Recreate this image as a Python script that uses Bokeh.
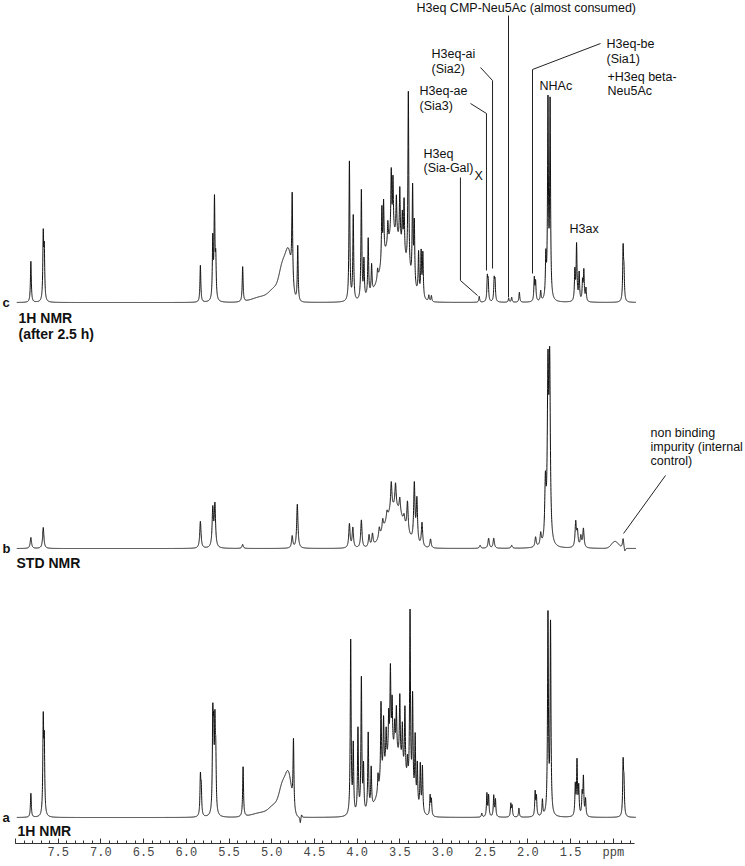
import numpy as np
from bokeh.plotting import figure
from bokeh.models import Range1d, FixedTicker, Label
from bokeh.embed import file_html
from bokeh.resources import INLINE

# ---------------- data: peak lists ----------------
# spectrum a: 1H NMR (t = 0)
a_ppm = [7.820, 7.675, 7.663, 5.835, 5.825, 5.690, 5.680, 5.665, 5.655, 5.335,
         4.745, 4.665, 4.650,
         4.075, 4.045, 3.990, 3.950, 3.925, 3.870, 3.835, 3.755, 3.720, 3.690,
         3.660, 3.630, 3.610, 3.590, 3.560, 3.540, 3.500, 3.470, 3.440, 3.410,
         3.380, 3.350, 3.320, 3.295, 3.260, 3.235, 3.145, 3.130,
         2.540, 2.480, 2.460, 2.400, 2.380, 2.200, 2.185, 2.105, 1.915, 1.900,
         1.830, 1.765, 1.735, 1.445, 1.425, 1.405, 1.365, 1.350, 1.325, 0.885, 0.875]
a_height = [24, 92, 68, 38, 26, 90, 68, 80, 52, 50,
            68, -6, 3,
            175, 68, 85, 135, 45, 78, 40, 18, 80, 55,
            35, 42, 85, 50, 28, 45, 65, 42, 68, 22,
            180, 100, 66, 42, 46, 46, 20, 16,
            4, 23, 21, 21, 17, 13, 11, 9, 24, 19,
            16, 200, 190, 30, 54, 28, 21, 38, 17, 52, 30]
# broad water hump (a) and sugar envelope
a_broad_ppm = [4.800, 4.870, 4.960, 5.100, 3.570]
a_broad_height = [38, 28, 10, 5, 62]
a_broad_sigma = [0.035, 0.040, 0.060, 0.120, 0.130]

# spectrum b: STD NMR
b_ppm = [7.820, 7.675, 5.835, 5.690, 5.665, 5.340, 4.760, 4.700,
         4.090, 4.050, 3.950, 3.860, 3.820, 3.740, 3.700, 3.650, 3.600, 3.550,
         3.500, 3.450, 3.410, 3.330, 3.300, 3.240, 3.140,
         2.560, 2.460, 2.400, 2.190, 1.910, 1.850, 1.795, 1.765, 1.745,
         1.440, 1.420, 1.380, 1.350, 0.885, 0.865]
b_height = [11, 21, 27, 38, 42, 4, 12, 44,
            24, 20, 28, 12, 12, 10, 11, 8, 28, 24,
            15, 8, 30, 58, 44, 24, 9,
            3, 10, 10, 3, 10, 12, 58, 165, 172,
            25, 15, 11, 19, 10, -4]
b_broad_ppm = [3.560, 0.980]
b_broad_height = [40, 7]
b_broad_sigma = [0.110, 0.040]

# spectrum c: 1H NMR (after 2.5 h)
c_ppm = [7.820, 7.675, 7.663, 5.835, 5.690, 5.670, 5.655, 5.340,
         4.760, 4.695,
         4.090, 4.045, 3.950, 3.920, 3.870, 3.830, 3.760, 3.710, 3.690, 3.640,
         3.600, 3.580, 3.540, 3.500, 3.470, 3.450, 3.400, 3.350, 3.330, 3.280,
         3.250, 3.230, 3.160, 3.130,
         2.570, 2.475, 2.465, 2.395, 2.385, 2.225, 2.190, 2.100, 1.925, 1.910,
         1.850, 1.790, 1.765, 1.740, 1.450, 1.430, 1.400, 1.360, 1.345, 1.320,
         0.885, 0.875]
c_height = [41, 64, 48, 37, 60, 98, 38, 35,
            86, 56,
            140, 85, 110, 38, 58, 28, 10, 55, 55, 22,
            65, 55, 40, 55, 35, 55, 180, 95, 62, 42,
            44, 44, 6, 6,
            6, 23, 19, 21, 19, 4, 5, 10, 23, 19,
            10, 40, 195, 195, 30, 56, 28, 19, 30, 13,
            52, 26]
c_broad_ppm = [4.800, 4.870, 4.960, 5.100, 3.570]
c_broad_height = [44, 32, 11, 6, 65]
c_broad_sigma = [0.035, 0.040, 0.060, 0.120, 0.130]

# axis ticks
tick_values = [8.0, 7.5, 7.0, 6.5, 6.0, 5.5, 5.0, 4.5, 4.0, 3.5, 3.0, 2.5, 2.0, 1.5, 1.0]
tick_labels = ["", "7.5", "7.0", "6.5", "6.0", "5.5", "5.0", "4.5", "4.0", "3.5",
               "3.0", "2.5", "2.0", "1.5", "ppm"]

# ---------------- layout helpers (reference pixel -> data) ----------------
PX_PER_PPM = 85.4
def X(px):
    return 8.0 - (px - 15) / PX_PER_PPM

BASE_A = 817
def Y(py):
    return BASE_A - py

OFF_A, OFF_B, OFF_C = 0, BASE_A - 548, BASE_A - 302

grid = np.linspace(7.985, 0.735, 9000)

def trace(ppm, height, hw, bppm, bh, bs):
    y = np.zeros_like(grid)
    for p0, h in zip(ppm, height):
        y += h / (1.0 + ((grid - p0) / hw) ** 2)
    for p0, h, s in zip(bppm, bh, bs):
        y += h * np.exp(-((grid - p0) ** 2) / (2 * s * s))
    return y

ya = trace(a_ppm, a_height, 0.006, a_broad_ppm, a_broad_height, a_broad_sigma) + OFF_A
yb = trace(b_ppm, b_height, 0.009, b_broad_ppm, b_broad_height, b_broad_sigma) + OFF_B
yc = trace(c_ppm, c_height, 0.006, c_broad_ppm, c_broad_height, c_broad_sigma) + OFF_C

W, H = 745, 866
AXIS_Y = 843
p = figure(width=W, height=H,
           x_range=Range1d(X(0), X(W)),
           y_range=Range1d(Y(AXIS_Y), Y(0)),
           output_backend="svg", toolbar_location=None,
           y_axis_location=None, x_axis_location="below",
           min_border_left=0, min_border_right=0, min_border_top=0,
           min_border_bottom=H - AXIS_Y, outline_line_color=None)
p.grid.visible = False
p.background_fill_color = "white"
p.border_fill_color = "white"

ax = p.xaxis[0]
ax.axis_label = None
ax.ticker = FixedTicker(ticks=tick_values,
                        minor_ticks=[round(8.0 - 0.1 * i, 1) for i in range(0, 73)])
ax.major_label_overrides = {v: s for v, s in zip(tick_values, tick_labels)}
ax.bounds = (0.75, 8.0)
ax.major_tick_in = 5
ax.major_tick_out = 0
ax.minor_tick_in = 3
ax.minor_tick_out = 0
ax.axis_line_color = "#333333"
ax.major_tick_line_color = "#333333"
ax.minor_tick_line_color = "#333333"
ax.major_label_text_font = "Liberation Mono"
ax.major_label_text_font_size = "12px"
ax.major_label_text_color = "#444444"
ax.major_label_standoff = 2

for yy in (ya, yb, yc):
    p.line(grid, yy, line_color="#111111", line_width=1)

# leader lines
leader_col = "#222222"
cmp_ppm, sia2_ppm, sia3_ppm, siagal_ppm, sia1_ppm, imp_ppm = 2.227, 2.414, 2.485, 2.79, 1.946, 0.88
p.line([cmp_ppm, cmp_ppm], [Y(15), Y(297)], line_color=leader_col, line_width=1)
p.line([X(480), sia2_ppm, sia2_ppm], [Y(67), Y(80), Y(268)], line_color=leader_col, line_width=1)
p.line([X(470), sia3_ppm, sia3_ppm], [Y(103), Y(113), Y(270)], line_color=leader_col, line_width=1)
p.line([siagal_ppm, siagal_ppm, X(477)], [Y(177), Y(280), Y(295)], line_color=leader_col, line_width=1)
p.line([X(600), sia1_ppm, sia1_ppm], [Y(43), Y(69), Y(273)], line_color=leader_col, line_width=1)
p.line([X(665), imp_ppm], [Y(475), Y(533)], line_color=leader_col, line_width=1)

def lab(text, px, py, size="12.5px", bold=False):
    p.add_layout(Label(x=X(px), y=Y(py), text=text, text_font="Liberation Sans",
                       text_font_size=size, text_baseline="middle", text_align="left",
                       text_color="#111111",
                       text_font_style="bold" if bold else "normal"))

lab("H3eq CMP-Neu5Ac (almost consumed)", 416, 7)
lab("H3eq-ai", 431, 53)
lab("(Sia2)", 431, 68)
lab("H3eq-ae", 419, 90)
lab("(Sia3)", 419, 105)
lab("H3eq", 423, 153)
lab("(Sia-Gal)", 423, 167)
lab("X", 474, 175)
lab("H3eq-be", 606, 43)
lab("(Sia1)", 606, 58)
lab("+H3eq beta-", 607, 76)
lab("Neu5Ac", 607, 90)
lab("NHAc", 539, 85)
lab("H3ax", 569, 228)
lab("non binding", 650, 432)
lab("impurity (internal", 650, 446)
lab("control)", 650, 460)

lab("c", 2, 302, "13px", True)
lab("1H NMR", 18, 317, "14px", True)
lab("(after 2.5 h)", 18, 333, "14px", True)
lab("b", 2, 548, "13px", True)
lab("STD NMR", 16, 562, "14px", True)
lab("a", 2, 817, "13px", True)
lab("1H NMR", 17, 830, "14px", True)

open("out.html", "w").write(file_html(p, INLINE))
